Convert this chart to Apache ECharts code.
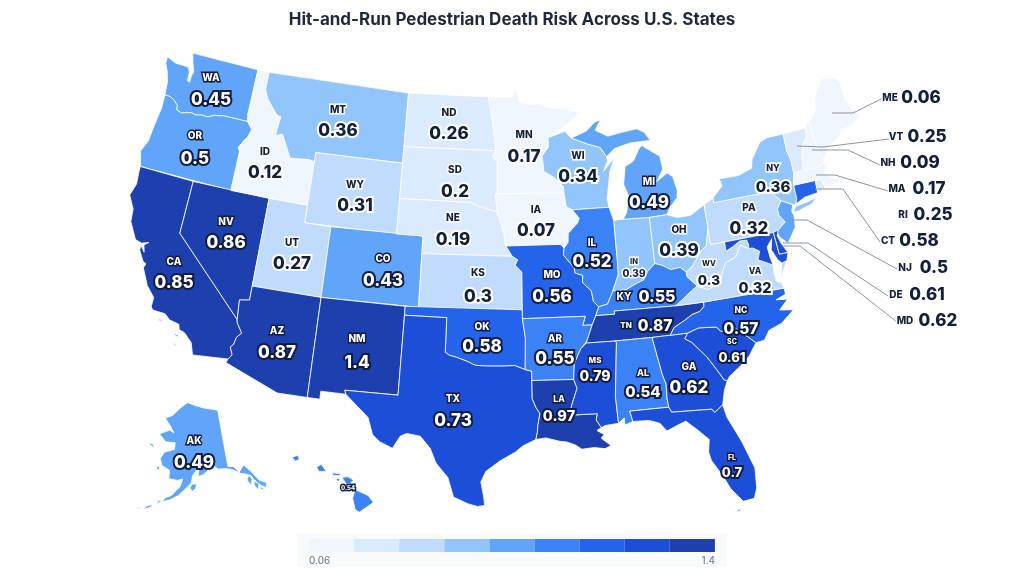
<!DOCTYPE html>
<html><head><meta charset="utf-8">
<style>html,body{margin:0;padding:0;background:#fff}#c{width:1024px;height:576px}</style>
<script src="https://cdn.jsdelivr.net/npm/echarts@6/dist/echarts.min.js"></script>
</head><body><div id="c"></div>
<script>
const stateCodes = ['WA','OR','CA','NV','ID','MT','WY','UT','CO','AZ','NM','ND','SD','NE','KS','OK','TX','MN','IA','MO','AR','LA','WI','IL','IN','MI','OH','KY','TN','MS','AL','GA','FL','SC','NC','VA','WV','PA','NY','NJ','DE','MD','CT','RI','MA','VT','NH','ME','AK','HI'];
const riskValues = [0.45,0.5,0.85,0.86,0.12,0.36,0.31,0.27,0.43,0.87,1.4,0.26,0.2,0.19,0.3,0.58,0.73,0.17,0.07,0.56,0.55,0.97,0.34,0.52,0.39,0.49,0.39,0.55,0.87,0.79,0.54,0.62,0.7,0.61,0.57,0.32,0.3,0.32,0.36,0.5,0.61,0.62,0.58,0.25,0.17,0.25,0.09,0.06,0.49,0.54];
const binBreaks = [0.06,0.18,0.265,0.33,0.41,0.51,0.555,0.6,0.8,1.4];
const binColors = ['#eff6ff','#dbeafe','#bfdbfe','#93c5fd','#60a5fa','#3b82f6','#2563eb','#1d4ed8','#1e40af'];
const legendEnds = ['0.06','1.4'];
const outsideStates = ['ME','VT','NH','MA','RI','CT','NJ','DE','MD'];

// ---------- map outlines (longitude / latitude) ----------
const R_TXOK=[[-94.48,33.64],[-95.2,33.88],[-96,33.85],[-96.6,33.85],[-97.2,33.85],[-97.9,33.88],[-98.5,34.1],[-99.2,34.3],[-99.7,34.4],[-100,34.56]];
const outlines = {
WA:[[[-124.73,48.38],[-123.9,48.17],[-123.1,48.17],[-122.76,48.14],[-122.6,47.9],[-122.55,47.4],[-122.35,47.35],[-122.35,47.7],[-122.25,48.0],[-122.5,48.4],[-122.76,49],[-117.03,49],[-117.04,46.42],[-116.92,46],[-118.98,46],[-119.3,45.93],[-119.6,45.92],[-120.2,45.72],[-120.65,45.74],[-121.2,45.65],[-121.55,45.72],[-122,45.62],[-122.3,45.55],[-122.75,45.65],[-122.8,45.9],[-123.2,46.15],[-123.55,46.26],[-124,46.27],[-124.07,46.7],[-124.1,47],[-124.4,47.6],[-124.7,48]]],
OR:[[[-124,46.27],[-123.55,46.26],[-123.2,46.15],[-122.8,45.9],[-122.75,45.65],[-122.3,45.55],[-122,45.62],[-121.55,45.72],[-121.2,45.65],[-120.65,45.74],[-120.2,45.72],[-119.6,45.92],[-119.3,45.93],[-118.98,46],[-116.92,46],[-116.46,45.6],[-116.67,45.1],[-116.85,44.95],[-117.2,44.45],[-117.03,44.25],[-117.03,42],[-124.21,42],[-124.4,42.5],[-124.55,42.84],[-124.2,43.5],[-124.1,44.5],[-123.95,45.5]]],
CA:[[[-124.21,42],[-120,42],[-120,39],[-114.63,35],[-114.57,34.8],[-114.14,34.3],[-114.45,34],[-114.53,33.6],[-114.72,33.4],[-114.5,33],[-114.72,32.72],[-117.12,32.53],[-117.25,32.85],[-117.4,33.2],[-118,33.65],[-118.4,33.75],[-118.5,34.03],[-119.2,34.15],[-119.6,34.42],[-120.47,34.45],[-120.65,34.6],[-120.65,35.15],[-121.3,35.7],[-121.9,36.6],[-121.8,36.85],[-122.05,36.95],[-122.5,37.5],[-122.5,37.78],[-122.15,37.45],[-122.3,37.85],[-122.0,38.05],[-122.5,37.9],[-123,38],[-123.7,38.9],[-123.8,39.6],[-124.35,40.3],[-124.1,41],[-124.2,41.75]],
 [[-119.9,34.05],[-119.55,34.0],[-119.55,33.95],[-119.9,33.97]],[[-118.6,33.48],[-118.35,33.4],[-118.35,33.33],[-118.6,33.42]],[[-118.6,33.03],[-118.35,32.82],[-118.45,32.82]]],
NV:[[[-120,42],[-114.04,42],[-114.04,36.2],[-114.74,36.1],[-114.63,35],[-120,39]]],
ID:[[[-117.03,49],[-116.05,49],[-116.05,48],[-115.7,47.5],[-114.7,46.7],[-114.35,46.65],[-114.5,45.55],[-113.95,45.7],[-113.45,45.05],[-113,44.45],[-111.5,44.55],[-111.05,44.48],[-111.05,42],[-117.03,42],[-117.03,44.25],[-117.2,44.45],[-116.85,44.95],[-116.67,45.1],[-116.46,45.6],[-116.92,46],[-117.04,46.42]]],
MT:[[[-116.05,49],[-104.05,49],[-104.05,45],[-111.05,45],[-111.05,44.48],[-111.5,44.55],[-113,44.45],[-113.45,45.05],[-113.95,45.7],[-114.5,45.55],[-114.35,46.65],[-114.7,46.7],[-115.7,47.5],[-116.05,48]]],
WY:[[[-111.05,45],[-104.05,45],[-104.05,41],[-111.05,41]]],
UT:[[[-114.04,42],[-111.05,42],[-111.05,41],[-109.05,41],[-109.05,37],[-114.04,37]]],
CO:[[[-109.05,41],[-102.05,41],[-102.05,37],[-109.05,37]]],
AZ:[[[-114.04,37],[-109.05,37],[-109.05,31.33],[-111.07,31.33],[-114.81,32.5],[-114.72,32.72],[-114.5,33],[-114.72,33.4],[-114.53,33.6],[-114.45,34],[-114.14,34.3],[-114.57,34.8],[-114.63,35],[-114.74,36.1],[-114.04,36.2]]],
NM:[[[-109.05,37],[-103,37],[-103.04,32],[-106.62,32],[-106.53,31.78],[-108.21,31.78],[-108.21,31.33],[-109.05,31.33]]],
ND:[[[-104.05,49],[-97.23,49],[-96.85,47.5],[-96.56,45.94],[-104.05,45.94]]],
SD:[[[-104.05,45.94],[-96.56,45.94],[-96.85,45.6],[-96.45,45.3],[-96.45,43.5],[-96.6,43.5],[-96.45,42.49],[-97.9,42.8],[-98.5,43],[-104.05,43]]],
NE:[[[-104.05,43],[-98.5,43],[-97.9,42.8],[-96.45,42.49],[-96.1,41.7],[-95.9,41.2],[-95.85,40.7],[-95.31,40],[-102.05,40],[-102.05,41],[-104.05,41]]],
KS:[[[-102.05,40],[-95.31,40],[-94.9,39.8],[-95.1,39.5],[-94.61,39.1],[-94.62,37],[-102.04,37]]],
OK:[[[-103,37],[-94.62,37],[-94.62,36.5],[-94.43,35.4],...R_TXOK,[-100,36.5],[-103,36.5]]],
TX:[[[-103,36.5],[-100,36.5],...R_TXOK.slice().reverse(),[-94.04,33.55],[-94.04,33.02],[-94.04,32],[-93.8,31.5],[-93.55,31.15],[-93.7,30.5],[-93.75,30.1],[-93.85,29.7],[-94.7,29.35],[-95.2,29],[-96.2,28.5],[-97.1,27.9],[-97.4,27.3],[-97.2,26.4],[-97.15,25.96],[-97.6,25.9],[-98.2,26.05],[-99.1,26.4],[-99.5,27.5],[-100.3,28.3],[-100.7,29.1],[-101.4,29.77],[-102.3,29.88],[-102.7,29.7],[-103.15,28.98],[-104,29.3],[-104.5,29.65],[-104.9,30.6],[-106,31.4],[-106.53,31.78],[-106.62,32],[-103.04,32]]],
MN:[[[-97.23,49],[-95.15,49],[-95.15,49.38],[-94.8,49.3],[-94.6,48.72],[-93.8,48.55],[-92.9,48.6],[-92,48.3],[-90.8,48.2],[-89.5,48],[-90.8,47.3],[-92,46.7],[-92.3,46.65],[-92.3,46.1],[-92.85,45.6],[-92.75,45],[-92.75,44.75],[-92,44.4],[-91.25,43.85],[-91.22,43.5],[-96.45,43.5],[-96.45,45.3],[-96.85,45.6],[-96.56,45.94],[-96.85,47.5]]],
IA:[[[-96.6,43.5],[-91.22,43.5],[-91.1,42.7],[-90.65,42.5],[-90.15,42],[-90.3,41.75],[-91.05,41.2],[-91.1,40.7],[-91.42,40.38],[-91.7,40.6],[-95.77,40.58],[-95.85,40.7],[-95.9,41.2],[-96.1,41.7],[-96.45,42.49]]],
MO:[[[-95.77,40.58],[-91.7,40.6],[-91.42,40.38],[-91.5,40],[-90.75,39.25],[-90.7,38.95],[-90.15,38.8],[-90.2,38.4],[-89.6,37.9],[-89.5,37.3],[-89.15,36.98],[-89.4,36.5],[-89.7,36],[-90.37,36],[-90.15,36.5],[-94.62,36.5],[-94.62,37],[-94.61,39.1],[-95.1,39.5],[-94.9,39.8],[-95.31,40]]],
AR:[[[-94.62,36.5],[-90.15,36.5],[-90.37,36],[-89.7,36],[-90.2,35],[-90.05,35.2],[-90.6,34.7],[-91.1,33.9],[-91.2,33],[-94.04,33.02],[-94.04,33.55],[-94.48,33.64],[-94.43,35.4]]],
LA:[[[-94.04,33.02],[-91.2,33],[-91,32.5],[-91.4,31.6],[-91.6,31],[-89.75,31],[-89.85,30.65],[-89.55,30.2],[-89.85,30.05],[-89.4,29.8],[-89.6,29.6],[-89,29.15],[-89.4,29],[-90.1,29.1],[-90.9,29.05],[-91.3,29.3],[-91.85,29.5],[-92.3,29.55],[-93.2,29.77],[-93.85,29.7],[-93.75,30.1],[-93.7,30.5],[-93.55,31.15],[-93.8,31.5],[-94.04,32]]],
MS:[[[-90.2,35],[-88.2,35],[-88.1,34.9],[-88.47,31.9],[-88.4,30.37],[-89.3,30.3],[-89.55,30.2],[-89.85,30.65],[-89.75,31],[-91.6,31],[-91.4,31.6],[-91,32.5],[-91.2,33],[-91.1,33.9],[-90.6,34.7]]],
AL:[[[-88.2,35],[-85.6,35],[-85.18,32.87],[-85,32.3],[-85.05,31.55],[-85,31],[-87.6,31],[-87.45,30.4],[-88,30.25],[-88,30.65],[-88.4,30.37],[-88.47,31.9],[-88.1,34.9]]],
GA:[[[-85.6,35],[-83.1,35],[-83.35,34.7],[-82.9,34.45],[-82,33.5],[-81.4,32.6],[-81.1,32.1],[-80.9,32.03],[-81.2,31.5],[-81.45,30.72],[-82.05,30.36],[-82.2,30.57],[-84.86,30.7],[-85,31],[-85.05,31.55],[-85,32.3],[-85.18,32.87]]],
FL:[[[-87.6,31],[-85,31],[-84.86,30.7],[-82.2,30.57],[-82.05,30.36],[-81.45,30.72],[-81.3,30],[-80.6,28.5],[-80.05,26.9],[-80.15,25.75],[-80.4,25.2],[-81.1,25.13],[-81.75,25.95],[-82.1,26.7],[-82.7,27.7],[-82.8,28.2],[-82.65,28.9],[-83.4,29.6],[-84,30.1],[-84.35,30],[-85.3,29.68],[-85.7,30.15],[-86.4,30.38],[-87.45,30.4]],
 [[-81.8,24.6],[-81.4,24.7],[-81.3,24.62]]],
SC:[[[-83.35,34.7],[-83.1,35],[-82.3,35.2],[-81.05,35.1],[-80.8,34.82],[-79.67,34.8],[-78.55,33.86],[-79.15,33.2],[-79.9,32.7],[-80.7,32.25],[-80.9,32.03],[-81.1,32.1],[-81.4,32.6],[-82,33.5],[-82.9,34.45]]],
NC:[[[-84.32,35],[-83.1,35],[-82.3,35.2],[-81.05,35.1],[-80.8,34.82],[-79.67,34.8],[-78.55,33.86],[-77.95,33.9],[-77.5,34.4],[-76.55,34.65],[-75.55,35.25],[-76.5,35.4],[-75.8,35.9],[-76.6,36],[-75.87,36.2],[-75.87,36.55],[-81.68,36.59],[-81.7,36.35],[-82.05,36.1],[-82.6,36],[-83.2,35.72],[-84,35.4]]],
TN:[[[-90.2,35],[-89.7,36],[-89.4,36.5],[-88.05,36.5],[-88.07,36.68],[-83.68,36.6],[-81.68,36.59],[-81.7,36.35],[-82.05,36.1],[-82.6,36],[-83.2,35.72],[-84,35.4],[-84.32,35],[-85.6,35],[-88.2,35]]],
KY:[[[-89.4,36.5],[-89.15,36.98],[-88.5,37.1],[-88.05,37.8],[-87.1,37.8],[-86.3,38.1],[-85.75,38.25],[-85.4,38.7],[-84.8,39.1],[-84.3,38.95],[-83.7,38.65],[-83,38.7],[-82.6,38.4],[-82.6,38.15],[-81.97,37.54],[-83.68,36.6],[-88.07,36.68],[-88.05,36.5]]],
VA:[[[-83.68,36.6],[-81.97,37.54],[-81.25,37.25],[-80.3,37.5],[-79.95,38.2],[-79.65,38.58],[-78.87,38.77],[-78.35,39.4],[-77.83,39.13],[-77.5,39.1],[-77.05,38.85],[-77.3,38.4],[-76.3,37.95],[-76.35,37.55],[-76.3,37],[-75.98,36.9],[-75.87,36.55],[-81.68,36.59]],
 [[-75.65,37.95],[-75.25,38.03],[-75.95,37.15]]],
WV:[[[-82.6,38.15],[-82.6,38.4],[-82.2,38.6],[-81.75,39],[-81.4,39.35],[-80.85,39.7],[-80.52,40.64],[-80.52,39.72],[-79.48,39.72],[-79.48,39.2],[-78.9,39.4],[-78.35,39.63],[-77.83,39.6],[-77.75,39.3],[-77.83,39.13],[-78.35,39.4],[-78.87,38.77],[-79.65,38.58],[-79.95,38.2],[-80.3,37.5],[-81.25,37.25],[-81.97,37.54]]],
OH:[[[-84.8,41.7],[-83.45,41.73],[-82.7,41.5],[-81.7,41.5],[-80.52,41.98],[-80.52,40.64],[-80.85,39.7],[-81.4,39.35],[-81.75,39],[-82.2,38.6],[-82.6,38.4],[-83,38.7],[-83.7,38.65],[-84.3,38.95],[-84.8,39.1]]],
IN:[[[-87.53,41.72],[-87.2,41.76],[-86.8,41.76],[-84.8,41.7],[-84.8,39.1],[-85.4,38.7],[-85.75,38.25],[-86.3,38.1],[-87.1,37.8],[-88.05,37.8],[-87.55,38.7],[-87.53,39.35]]],
IL:[[[-90.65,42.5],[-87.8,42.5],[-87.6,41.9],[-87.53,41.72],[-87.53,39.35],[-87.55,38.7],[-88.05,37.8],[-88.5,37.1],[-89.15,36.98],[-89.5,37.3],[-89.6,37.9],[-90.2,38.4],[-90.15,38.8],[-90.7,38.95],[-90.75,39.25],[-91.5,40],[-91.42,40.38],[-91.1,40.7],[-91.05,41.2],[-90.3,41.75],[-90.15,42]]],
WI:[[[-92,46.7],[-90.9,46.95],[-90.4,46.55],[-89.1,46.15],[-88.1,45.9],[-87.65,45.35],[-87.6,45.1],[-88,44.55],[-87.05,45.25],[-87.5,44.5],[-87.7,43.7],[-87.9,43],[-87.8,42.5],[-90.65,42.5],[-91.1,42.7],[-91.22,43.5],[-91.25,43.85],[-92,44.4],[-92.75,44.75],[-92.75,45],[-92.85,45.6],[-92.3,46.1],[-92.3,46.65]]],
MI:[[[-86.8,41.76],[-84.8,41.7],[-83.45,41.73],[-83.15,42.1],[-82.5,42.6],[-82.4,43],[-82.6,43.8],[-83,44.05],[-83.9,43.65],[-83.3,44.3],[-83.4,45.05],[-84.75,45.78],[-85,45.6],[-85.55,44.95],[-86.25,44.7],[-86.5,43.7],[-86.2,43],[-86.5,42.1]],
 [[-90.4,46.55],[-89.1,46.9],[-88.4,47.35],[-87.9,47.47],[-88.4,46.9],[-87.4,46.5],[-86.2,46.65],[-85,46.75],[-84.4,46.5],[-84,46],[-84.8,46],[-85.6,46],[-86.5,45.85],[-87,45.75],[-87.65,45.35],[-88.1,45.9],[-89.1,46.15]]],
NY:[[[-79.76,42.27],[-78.9,42.85],[-79.05,43.27],[-77.5,43.25],[-76.4,43.5],[-76.2,44],[-75.3,44.85],[-74.7,45],[-73.35,45],[-73.4,44],[-73.25,43.55],[-73.27,42.75],[-73.5,42.05],[-73.5,41.3],[-73.65,41],[-73.9,41],[-74.7,41.36],[-75.35,42],[-79.76,42]],
 [[-74,40.6],[-73.7,40.88],[-72.7,40.97],[-72,41.1],[-72.5,40.8],[-73.6,40.58]]],
PA:[[[-80.52,41.98],[-79.76,42.27],[-79.76,42],[-75.35,42],[-74.7,41.36],[-75.1,40.95],[-75.1,40.6],[-74.75,40.15],[-75.4,39.8],[-75.79,39.72],[-80.52,39.72]]],
NJ:[[[-74.7,41.36],[-73.9,41],[-74.1,40.65],[-74,40.4],[-74.1,39.75],[-74.9,38.95],[-75.4,39.4],[-75.5,39.65],[-75.4,39.8],[-74.75,40.15],[-75.1,40.6],[-75.1,40.95]]],
DE:[[[-75.79,39.72],[-75.4,39.8],[-75.55,39.5],[-75.4,39.05],[-75.05,38.45],[-75.7,38.46]]],
MD:[[[-79.48,39.72],[-75.79,39.72],[-75.7,38.46],[-75.05,38.45],[-75.25,38.03],[-75.65,37.95],[-75.9,38.2],[-76.2,38.8],[-76,39.4],[-76.45,39],[-76.4,38.4],[-76.3,37.95],[-77.3,38.4],[-77.05,38.85],[-77.5,39.1],[-77.83,39.13],[-77.75,39.3],[-77.83,39.6],[-78.35,39.63],[-78.9,39.4],[-79.48,39.2]]],
CT:[[[-73.5,42.05],[-71.8,42.02],[-71.85,41.32],[-72.9,41.25],[-73.65,41],[-73.5,41.3]]],
RI:[[[-71.8,42.02],[-71.38,42.02],[-71.2,41.5],[-71.85,41.32]]],
MA:[[[-73.5,42.05],[-73.27,42.75],[-71.3,42.7],[-70.85,42.88],[-70.6,42.65],[-71,42.3],[-70.6,41.95],[-70.05,41.8],[-70.2,42.07],[-69.95,41.68],[-70.65,41.55],[-71.2,41.5],[-71.38,42.02],[-71.8,42.02]]],
VT:[[[-73.35,45],[-71.5,45.01],[-71.6,44.5],[-72.05,44.1],[-72.3,43.6],[-72.45,43],[-72.46,42.73],[-73.27,42.75],[-73.25,43.55],[-73.4,44]]],
NH:[[[-71.5,45.01],[-71.3,45.3],[-71.08,45.3],[-70.98,43.4],[-70.7,43.07],[-70.85,42.88],[-71.3,42.7],[-72.46,42.73],[-72.45,43],[-72.3,43.6],[-72.05,44.1],[-71.6,44.5]]],
ME:[[[-71.08,45.3],[-70.4,45.8],[-70.25,46.2],[-70,46.7],[-69.23,47.46],[-68.3,47.36],[-67.8,47.07],[-67.78,45.9],[-67.45,45.3],[-67,44.85],[-68,44.4],[-68.8,44.4],[-69.1,44],[-70,43.75],[-70.7,43.07],[-70.98,43.4]]],
AK:[[[-156.5,71.35],[-152,70.85],[-148,70.4],[-141,69.65],[-141,60.3],[-139,60],[-137.5,58.9],[-136.5,59.4],[-135.4,59.8],[-133.5,58.4],[-131.8,56.6],[-130,55.9],[-130.2,55],[-131.5,55.6],[-133,56.5],[-134,57.8],[-135.5,58.3],[-137,58.6],[-139.7,59.6],[-142,60],[-144.5,60.1],[-146.5,60.9],[-148.5,60],[-150,59.5],[-151.8,59.2],[-151.5,60.7],[-150,61.2],[-152.5,60.2],[-153.8,59.4],[-154.2,58.2],[-156.5,57],[-158.5,56],[-161,55.2],[-163.3,54.8],[-162.5,55.4],[-160.5,56],[-158,57.5],[-157.2,58.8],[-159,58.5],[-162,58.65],[-162,60],[-165,60.6],[-166,61.7],[-164.8,62.8],[-161,63.5],[-161,64.6],[-165,64.5],[-168.1,65.6],[-164,66.5],[-162,66.2],[-163.7,67.1],[-166.8,68.35],[-163.5,69],[-160,70.4]],
 [[-154.7,57.4],[-153.9,58],[-152.4,58],[-152.9,57.2],[-154,56.8]],[[-166.9,60.2],[-165.7,60.3],[-165.6,59.9],[-166.6,59.8]],[[-171.7,63.75],[-170,63.7],[-168.8,63.2],[-170.5,63.35]],
 [[-134.6,58],[-133.9,57.2],[-134.8,56.3],[-135.6,57.3]],[[-133.8,56.2],[-133.1,56.9],[-132.3,56],[-133,55.2]],[[-132.3,55.7],[-131.3,55.1],[-132,54.9]],
 [[-165,54.2],[-163.2,54.9],[-164.4,54.9]],[[-168.2,53.4],[-166.2,54],[-166.2,53.6],[-167.8,53.1]],[[-171.5,52.6],[-169.2,53.2],[-169.5,52.9]]],
HI:[[[-155.9,20.25],[-155.1,19.9],[-154.8,19.5],[-155.65,18.95],[-155.9,19.1],[-156.05,19.75]],[[-156.7,20.95],[-156.35,21.0],[-156,20.8],[-156.2,20.6],[-156.45,20.6]],[[-158.25,21.55],[-157.95,21.7],[-157.65,21.3],[-158.1,21.3]],[[-159.75,22.1],[-159.4,22.22],[-159.3,22],[-159.55,21.88]],[[-157.3,21.22],[-156.75,21.17],[-156.9,21.05],[-157.25,21.08]],[[-157.05,20.9],[-156.85,20.9],[-156.85,20.75],[-157,20.75]]]
};

// ---------- conic equal-area projections that place the outlines on the page ----------
function conic(lon0, lat0, p1, p2, k, tx, ty, sx = 1) {
  const r = Math.PI / 180, s1 = Math.sin(p1 * r), n = (s1 + Math.sin(p2 * r)) / 2;
  const C = Math.cos(p1 * r) ** 2 + 2 * n * s1;
  const rho = lat => Math.sqrt(C - 2 * n * Math.sin(lat * r)) / n, rho0 = rho(lat0);
  return ([lon, lat]) => {
    const t = n * (lon - lon0) * r, q = rho(lat);
    return [tx + sx * k * q * Math.sin(t), ty - k * (rho0 - q * Math.cos(t))];
  };
}
const lower48 = conic(-96, 37.5, 29.5, 45.5, 1013, 503, 301);
const alaska = conic(-154, 58.5, 55, 65, 350, 192, 481, 0.92);
const hawaii = conic(-157, 20, 8, 18, 1000, 337, 494);
const features = stateCodes.map(code => {
  const f = code === 'AK' ? alaska : code === 'HI' ? hawaii : lower48;
  return { type: 'Feature', properties: { name: code }, geometry: { type: 'MultiPolygon',
    coordinates: outlines[code].map(ring => [ring.map(f)]) } };
});
echarts.registerMap('usStates', { type: 'FeatureCollection', features });

// ---------- label anchors on the page: [code x, code y, value x, value y] ----------
const anchors = {WA:[211,78,211,100],OR:[195,136,195,159],CA:[174,262,174,283],NV:[226,222,226,243],ID:[265,152,265,173],MT:[338,110,338,131],WY:[355,185,355,206],UT:[292,243,292,264],CO:[383,259,383,281],AZ:[277,331,277,353],NM:[357,339,357,363],ND:[449,113,449,134],SD:[455,170,455,192],NE:[453,218,453,240],KS:[478,273,478,297],OK:[482,327,482,347],TX:[453,399,453,421],MN:[524,135,524,157],IA:[536,210,536,231],MO:[552,275,552,297],AR:[555,339,555,359],LA:[559,399,559,417],WI:[578,156,578,177],IL:[592,243,592,262],IN:[634,262,634,274],MI:[649,182,649,203],OH:[679,230,679,251],KY:[624,297,657,297],TN:[626,326,655,326],MS:[595,361,595,377],AL:[643,373,643,392],GA:[689,367,689,388],FL:[732,458,732,473],SC:[732,342,732,358],NC:[741,310,741,329],WV:[709,264,709,281],VA:[755,271,755,289],PA:[749,208,749,229],NY:[773,168,773,187],AK:[194,441,194,463],HI:[null,null,348,488],
ME:[890,98,921,98],VT:[896,137,927,137],NH:[888,163,920,163],MA:[897,189,929,189],RI:[903,215,933,215],CT:[888,241,919,241],NJ:[905,268,934,268],DE:[896,295,927,295],MD:[905,321,938,321]};
const smallSizes = {IN:[7.5,10],HI:[0,6],SC:[7,13],MS:[8,14],FL:[7,13],WV:[7.5,13.5],LA:[8.5,14.5],TN:[8,15.5],VA:[8.5,14.5],AL:[9,15],NC:[8.5,15.5],KY:[10,16],NY:[9,15]};
const leaders = [
 [[832,113],[853,113],[883,98]],[[797,146],[823,147],[889,139]],[[812,150],[848,150],[880,165]],
 [[816,175],[835,175],[888,191]],[[815,189],[843,189],[880,242]],[[787,220],[807,220],[897,269]],
 [[783,243],[808,243],[888,296]],[[782,246],[800,246],[897,322]]];

const labelStyle = (code, v, size) => {
  const dark = v < 0.41 || outsideStates.includes(code);
  return { show: true, position: 'inside', opacity: 1, fontFamily: 'Inter', fontWeight: 800, fontSize: size,
    color: dark ? '#13203c' : '#ffffff', textBorderColor: dark ? '#ffffff' : '#0f1c40',
    textBorderWidth: size > 11 ? 4 : 2.8 };
};
const codeData = [], valueData = [];
stateCodes.forEach((c, i) => {
  const a = anchors[c], v = riskValues[i], z = smallSizes[c] || [10, 17];
  if (a[0] != null) codeData.push({ name: c, value: [a[0], a[1]], label: { ...labelStyle(c, v, z[0]), formatter: c } });
  valueData.push({ name: c, value: [a[2], a[3]], label: { ...labelStyle(c, v, z[1]), formatter: String(v) } });
});

const chart = echarts.init(document.getElementById('c'), null, { renderer: 'canvas' });
chart.setOption({
  animation: false,
  backgroundColor: '#ffffff',
  title: { text: 'Hit-and-Run Pedestrian Death Risk Across U.S. States', left: 'center', top: 6,
    textStyle: { fontFamily: 'Inter', fontWeight: 700, fontSize: 17, color: '#1e293b' } },
  geo: { map: 'usStates', roam: false, silent: true, left: 0, top: 0, width: 1024, height: 576,
    boundingCoords: [[0, 0], [1024, 576]],
    projection: { project: p => p, unproject: p => p },
    label: { show: false }, emphasis: { disabled: true },
    itemStyle: { areaColor: '#eff6ff', borderColor: '#ffffff', borderWidth: 0.8 } },
  visualMap: { type: 'piecewise', seriesIndex: 0, orient: 'horizontal', left: 297, top: 533,
    padding: [6, 12, 15, 12], backgroundColor: '#f8fafc', itemWidth: 45.1, itemHeight: 13, itemGap: 0,
    itemSymbol: 'rect', showLabel: false, selectedMode: false, hoverLink: false,
    pieces: binColors.map((color, i) => ({ gte: binBreaks[i], lt: i === binColors.length - 1 ? binBreaks[i + 1] + 0.01 : binBreaks[i + 1], color })) },
  graphic: [
    { type: 'text', left: 309, top: 556, z: 10, style: { text: legendEnds[0], font: '400 10px Inter', fill: '#64748b' } },
    { type: 'text', right: 309, top: 556, z: 10, style: { text: legendEnds[1], font: '400 10px Inter', fill: '#64748b' } }
  ],
  series: [
    { type: 'map', geoIndex: 0, data: stateCodes.map((c, i) => ({ name: c, value: riskValues[i] })) },
    { type: 'lines', coordinateSystem: 'geo', polyline: true, silent: true, z: 4,
      lineStyle: { color: '#8b93a3', width: 1, opacity: 1 }, data: leaders.map(coords => ({ coords })) },
    { type: 'scatter', coordinateSystem: 'geo', symbolSize: 0, silent: true, z: 5, itemStyle: { opacity: 1 }, data: codeData },
    { type: 'scatter', coordinateSystem: 'geo', symbolSize: 0, silent: true, z: 6, itemStyle: { opacity: 1 }, data: valueData }
  ]
});
</script></body></html>
